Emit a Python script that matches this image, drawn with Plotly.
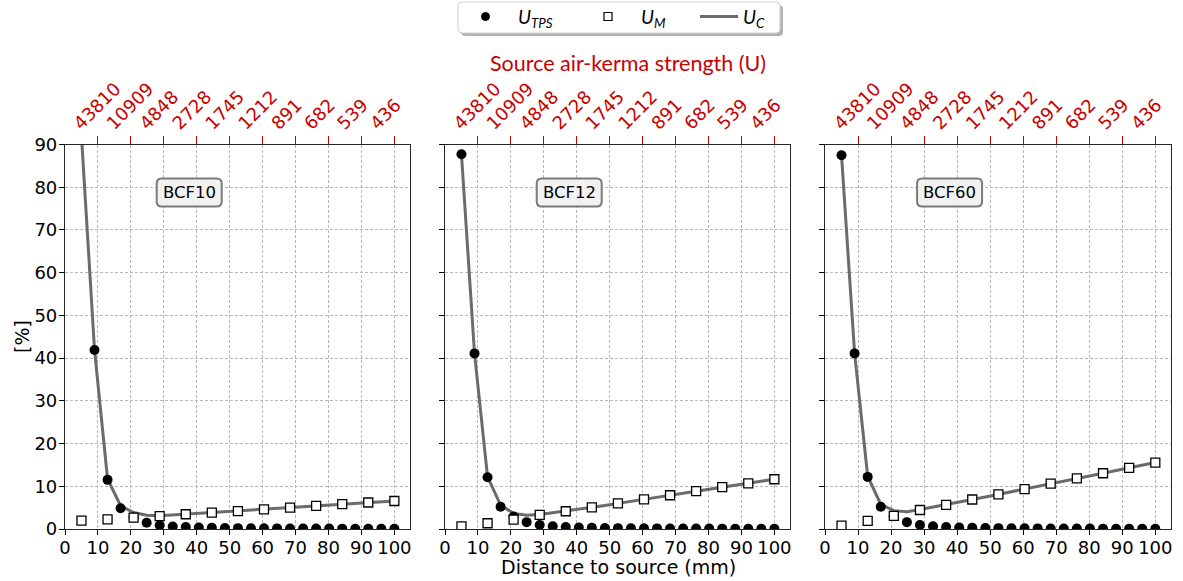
import plotly.graph_objects as go

# ---- data -------------------------------------------------------------
# distances (mm) at which the TPS and combined uncertainties are evaluated
distance_mm = [5, 8.96, 12.92, 16.88, 20.83, 24.79, 28.75, 32.71, 36.67, 40.63,
               44.58, 48.54, 52.5, 56.46, 60.42, 64.38, 68.33, 72.29, 76.25,
               80.21, 84.17, 88.13, 92.08, 96.04, 100]
# distances (mm) of the measurement-uncertainty points
distance_meas_mm = [5, 12.92, 20.83, 28.75, 36.67, 44.58, 52.5, 60.42, 68.33,
                    76.25, 84.17, 92.08, 100]

detectors = ["BCF10", "BCF12", "BCF60"]

u_tps = {
    "BCF10": [92.0, 41.9, 11.5, 4.85, 2.7, 1.45, 0.85, 0.6, 0.45, 0.35, 0.3, 0.25,
              0.2, 0.18, 0.16, 0.14, 0.12, 0.11, 0.1, 0.09, 0.08, 0.07, 0.07, 0.06, 0.06],
    "BCF12": [87.7, 41.1, 12.1, 5.2, 2.9, 1.6, 0.95, 0.65, 0.45, 0.35, 0.3, 0.25,
              0.2, 0.18, 0.16, 0.14, 0.12, 0.11, 0.1, 0.09, 0.08, 0.07, 0.07, 0.06, 0.06],
    "BCF60": [87.5, 41.1, 12.2, 5.2, 3.0, 1.6, 0.95, 0.65, 0.45, 0.35, 0.3, 0.25,
              0.2, 0.18, 0.16, 0.14, 0.12, 0.11, 0.1, 0.09, 0.08, 0.07, 0.07, 0.06, 0.06],
}
u_meas = {
    "BCF10": [1.95, 2.25, 2.65, 3.0, 3.45, 3.85, 4.2, 4.6, 5.0, 5.4, 5.8, 6.2, 6.55],
    "BCF12": [0.6, 1.35, 2.2, 3.3, 4.15, 5.05, 6.0, 6.95, 7.9, 8.85, 9.8, 10.7, 11.65],
    "BCF60": [0.8, 1.9, 3.05, 4.45, 5.65, 6.9, 8.1, 9.35, 10.6, 11.85, 13.05, 14.3, 15.55],
}
u_comb = {
    "BCF10": [92.0, 42.0, 11.7, 5.45, 3.85, 3.2, 3.1, 3.3, 3.5, 3.7, 3.85, 4.05, 4.25,
              4.45, 4.65, 4.85, 5.05, 5.25, 5.4, 5.6, 5.8, 6.0, 6.2, 6.4, 6.55],
    "BCF12": [87.7, 41.1, 12.2, 5.6, 3.65, 3.2, 3.4, 3.8, 4.2, 4.65, 5.05, 5.5, 6.0,
              6.5, 6.95, 7.4, 7.9, 8.35, 8.85, 9.3, 9.8, 10.25, 10.7, 11.2, 11.65],
    "BCF60": [87.5, 41.1, 12.35, 5.75, 4.3, 4.05, 4.55, 5.1, 5.7, 6.3, 6.9, 7.5, 8.1,
              8.75, 9.35, 10.0, 10.6, 11.2, 11.85, 12.45, 13.05, 13.7, 14.3, 14.9, 15.55],
}

distance_ticks = [0, 10, 20, 30, 40, 50, 60, 70, 80, 90, 100]
percent_ticks = [0, 10, 20, 30, 40, 50, 60, 70, 80, 90]
kerma_tickvals = [10, 20, 30, 40, 50, 60, 70, 80, 90, 100]
kerma_ticktext = ["43810", "10909", "4848", "2728", "1745", "1212", "891", "682", "539", "436"]

legend_labels = ["<i>U<sub>TPS</sub></i>", "<i>U<sub>M</sub></i>", "<i>U<sub>C</sub></i>"]

# ---- layout geometry (pixels) -----------------------------------------
W, H = 1183, 581
panel_px = [(65, 410), (445, 790), (825, 1171)]
plot_top_px, plot_bottom_px = 144.5, 529
x_range = [0, 104.75]
y_range = [0, 90]

TICK_FONT = dict(family="DejaVu Sans", size=18, color="black")
RED = "#c80000"
SPINE = "#262626"
GRID = "#b8b8b8"
LINE_GREY = "#6b6b6b"


def px(x):
    return x / W


def py(y):
    return 1 - y / H


def rounded_rect(l, r, b, t, rx, ry):
    return (f"M {l + rx},{b} L {r - rx},{b} Q {r},{b} {r},{b + ry} "
            f"L {r},{t - ry} Q {r},{t} {r - rx},{t} L {l + rx},{t} "
            f"Q {l},{t} {l},{t - ry} L {l},{b + ry} Q {l},{b} {l + rx},{b} Z")


fig = go.Figure()

for i, det in enumerate(detectors):
    n = i + 1
    xa = "x" if n == 1 else f"x{n}"
    ya = "y" if n == 1 else f"y{n}"
    fig.add_trace(go.Scatter(
        x=distance_mm, y=u_comb[det], xaxis=xa, yaxis=ya, mode="lines",
        line=dict(color=LINE_GREY, width=3), name="U_C"))
    fig.add_trace(go.Scatter(
        x=distance_mm, y=u_tps[det], xaxis=xa, yaxis=ya, mode="markers",
        marker=dict(symbol="circle", size=10, color="black"), name="U_TPS"))
    fig.add_trace(go.Scatter(
        x=distance_meas_mm, y=u_meas[det], xaxis=xa, yaxis=ya, mode="markers",
        marker=dict(symbol="square", size=9, color="white",
                    line=dict(color="black", width=1.3)), name="U_M"))
    # invisible carrier so the top (air-kerma) axis is drawn
    fig.add_trace(go.Scatter(
        x=kerma_tickvals, y=[y_range[0]] * len(kerma_tickvals),
        xaxis=f"x{n + 3}", yaxis=ya, mode="markers",
        marker=dict(opacity=0, size=1), hoverinfo="skip"))

layout = {}
y_dom = [py(plot_bottom_px), py(plot_top_px)]
for i, (x0, x1) in enumerate(panel_px):
    n = i + 1
    sfx = "" if n == 1 else str(n)
    layout[f"xaxis{sfx}"] = dict(
        domain=[px(x0), px(x1)], range=x_range, anchor=f"y{sfx}",
        tickvals=distance_ticks, ticks="outside", ticklen=5, tickwidth=1,
        tickcolor="black", tickfont=TICK_FONT, ticklabelstandoff=-3,
        showline=True, linecolor=SPINE,
        linewidth=1.2, mirror=True, showgrid=True, gridcolor=GRID,
        griddash="3px,2px", gridwidth=0.8, zeroline=False, automargin=False)
    layout[f"yaxis{sfx}"] = dict(
        domain=y_dom, range=y_range, anchor=f"x{sfx}",
        tickvals=percent_ticks, ticks="outside", ticklen=5, tickwidth=1,
        tickcolor="black", tickfont=TICK_FONT, showticklabels=(n == 1),
        ticklabelstandoff=-2,
        showline=True, linecolor=SPINE, linewidth=1.2, mirror=True,
        showgrid=True, gridcolor=GRID, griddash="3px,2px", gridwidth=0.8,
        zeroline=False, automargin=False)
    # secondary top axis: source air-kerma strength
    layout[f"xaxis{n + 3}"] = dict(
        overlaying=f"x{sfx}", side="top", anchor=f"y{sfx}", range=x_range,
        tickvals=kerma_tickvals, ticktext=kerma_ticktext, tickangle=-45,
        ticks="outside", ticklen=8, tickwidth=1.2, tickcolor=RED,
        tickfont=dict(family="DejaVu Sans", size=18, color=RED),
        ticklabelshift=-23, ticklabelstandoff=-5, ticklabeloverflow="allow",
        showline=False, showgrid=False, zeroline=False, automargin=False)

fig.update_layout(**layout)

annotations = []
shapes = []

# detector labels in rounded boxes
box_w_px, box_h_px, rad_px = 65, 28, 5
for i, det in enumerate(detectors):
    n = i + 1
    sfx = "" if n == 1 else str(n)
    pw = panel_px[i][1] - panel_px[i][0]
    ph = plot_bottom_px - plot_top_px
    cx, cy = 0.36, 0.875
    hw, hh = box_w_px / 2 / pw, box_h_px / 2 / ph
    path = rounded_rect(cx - hw, cx + hw, cy - hh, cy + hh, rad_px / pw, rad_px / ph)
    shapes.append(dict(type="path", path=path, xref=f"x{sfx} domain",
                       yref=f"y{sfx} domain", fillcolor="#f2f2f2",
                       line=dict(color="#7a7a7a", width=2), layer="above"))
    annotations.append(dict(text=det, xref=f"x{sfx} domain", yref=f"y{sfx} domain",
                            x=cx, y=cy, xanchor="center", yanchor="middle",
                            showarrow=False,
                            font=dict(family="DejaVu Sans", size=16.5, color="black")))

# ---- legend box (drawn as shapes so its layout is fixed) ---------------
lg_l, lg_r, lg_t, lg_b = 458, 780, 2, 33
rxp, ryp = 4 / W, 4 / H
shapes.append(dict(type="path", xref="paper", yref="paper",
                   path=rounded_rect(px(lg_l + 3), px(lg_r + 3), py(lg_b + 3), py(lg_t + 3), rxp, ryp),
                   fillcolor="#b4b4b4", line=dict(width=0)))
shapes.append(dict(type="path", xref="paper", yref="paper",
                   path=rounded_rect(px(lg_l), px(lg_r), py(lg_b), py(lg_t), rxp, ryp),
                   fillcolor="white", line=dict(color="#d0d0d0", width=1)))
lg_y = 16.5
shapes.append(dict(type="circle", xref="paper", yref="paper",
                   x0=px(481.5), x1=px(489.5), y0=py(lg_y + 4), y1=py(lg_y - 4),
                   fillcolor="black", line=dict(color="black", width=1)))
shapes.append(dict(type="rect", xref="paper", yref="paper",
                   x0=px(604), x1=px(612), y0=py(lg_y + 4), y1=py(lg_y - 4),
                   fillcolor="white", line=dict(color="black", width=1.2)))
shapes.append(dict(type="line", xref="paper", yref="paper",
                   x0=px(700), x1=px(738), y0=py(lg_y), y1=py(lg_y),
                   line=dict(color=LINE_GREY, width=3)))
for label, left in zip(legend_labels, [516, 639, 741]):
    annotations.append(dict(text=label, xref="paper", yref="paper",
                            x=px(left), y=py(lg_y + 1), xanchor="left", yanchor="middle",
                            showarrow=False,
                            font=dict(family="Lato", size=19, color="black")))

annotations += [
    dict(text="Source air-kerma strength (U)", xref="paper", yref="paper",
         x=px(628), y=py(63), xanchor="center", yanchor="middle", showarrow=False,
         font=dict(family="Lato", size=21.5, color=RED)),
    dict(text="Distance to source (mm)", xref="paper", yref="paper",
         x=px(618), y=py(567), xanchor="center", yanchor="middle", showarrow=False,
         font=dict(family="DejaVu Sans", size=19, color="black")),
    dict(text="[%]", xref="paper", yref="paper", x=px(22), y=py(337),
         xanchor="center", yanchor="middle", textangle=-90, showarrow=False,
         font=dict(family="DejaVu Sans", size=19, color="black")),
]

fig.update_layout(
    width=W, height=H, margin=dict(l=0, r=0, t=0, b=0),
    paper_bgcolor="white", plot_bgcolor="white",
    annotations=annotations, shapes=shapes, showlegend=False,
)

fig.write_html("out.html")
